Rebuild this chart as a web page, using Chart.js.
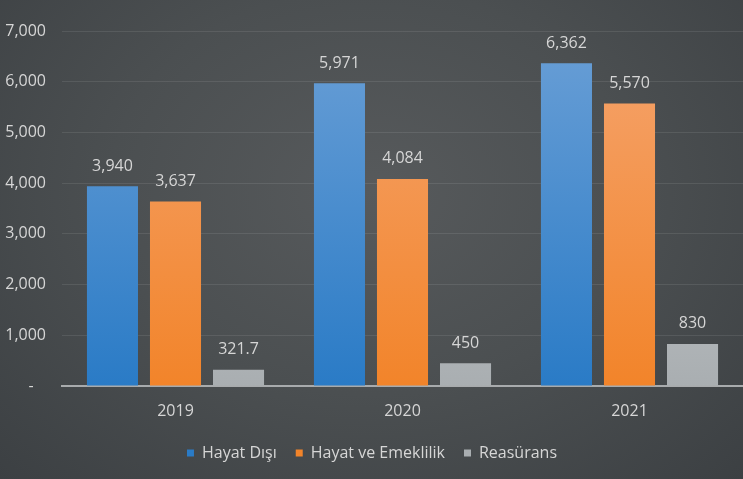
<!DOCTYPE html>
<html>
<head>
<meta charset="utf-8">
<script src="https://cdn.jsdelivr.net/npm/chart.js@4"></script>
<style>
  html, body { margin: 0; padding: 0; background: #fff; }
  #wrap {
    width: 743px; height: 479px; position: relative;
    background: radial-gradient(ellipse at 50% 40%, #575a5c 0%, #4b4f51 50%, #3c4043 100%);
  }
</style>
</head>
<body>
<div id="wrap"><canvas id="myChart" width="743" height="479"></canvas></div>
<script>
const years = ["2019", "2020", "2021"];
const hayatDisi = [3940, 5971, 6362];
const hayatEmeklilik = [3637, 4084, 5570];
const reasurans = [321.7, 450, 830];
const seriesNames = ["Hayat Dışı", "Hayat ve Emeklilik", "Reasürans"];

const textColor = "#d6d6d6";

// vertical gradient per bar colour
function grad(top, bottom) {
    return function (context) {
        const chart = context.chart;
        const area = chart.chartArea;
        if (!area) return bottom;
        const g = chart.ctx.createLinearGradient(0, area.top, 0, area.bottom);
        g.addColorStop(0, top);
        g.addColorStop(1, bottom);
        return g;
    };
}

function fmt(v) {
    if (v % 1 !== 0) return v.toString();
    return v.toLocaleString("en-US");
}

// value labels above bars
const valueLabels = {
    id: "valueLabels",
    afterDatasetsDraw(chart) {
        const ctx = chart.ctx;
        ctx.save();
        ctx.fillStyle = textColor;
        ctx.font = "16px 'Open Sans'";
        ctx.textAlign = "center";
        ctx.textBaseline = "bottom";
        chart.data.datasets.forEach((ds, i) => {
            chart.getDatasetMeta(i).data.forEach((bar, j) => {
                ctx.fillText(fmt(ds.data[j]), bar.x, bar.y - 12);
            });
        });
        ctx.restore();
    }
};

let ctx = document.getElementById("myChart").getContext("2d");
const myChart = new Chart(ctx, {
    type: "bar",
    data: {
        labels: years,
        datasets: [
            {
                label: seriesNames[0],
                data: hayatDisi,
                backgroundColor: grad("#6a9fd6", "#2a7bc6"),
                categoryPercentage: 0.833,
                barPercentage: 0.81
            },
            {
                label: seriesNames[1],
                data: hayatEmeklilik,
                backgroundColor: grad("#f5a46e", "#f2842a"),
                categoryPercentage: 0.833,
                barPercentage: 0.81
            },
            {
                label: seriesNames[2],
                data: reasurans,
                backgroundColor: grad("#d4d7d9", "#a9aeb1"),
                categoryPercentage: 0.833,
                barPercentage: 0.81
            }
        ]
    },
    options: {
        responsive: false,
        animation: false,
        layout: { padding: { top: 31, right: 0, left: 1, bottom: 8 } },
        plugins: {
            legend: {
                position: "bottom",
                labels: {
                    color: textColor,
                    font: { family: "'Open Sans'", size: 16 },
                    boxWidth: 7,
                    boxHeight: 7,
                    padding: 19
                }
            },
            tooltip: { enabled: false }
        },
        scales: {
            x: {
                grid: { display: false },
                border: { color: "#a8abad", width: 2 },
                ticks: {
                    color: textColor,
                    font: { family: "'Open Sans'", size: 16 },
                    padding: 8
                },
                afterFit(scale) { scale.height = 40; }
            },
            y: {
                min: 0,
                max: 7000,
                ticks: {
                    stepSize: 1000,
                    color: textColor,
                    font: { family: "'Open Sans'", size: 16 },
                    padding: 16,
                    callback: (v) => v === 0 ? "-   " : v.toLocaleString("en-US")
                },
                grid: { color: "rgba(255,255,255,0.09)", drawTicks: false },
                border: { display: false },
                afterFit(scale) { scale.width = 61; }
            }
        }
    },
    plugins: [valueLabels]
});
</script>
</body>
</html>
